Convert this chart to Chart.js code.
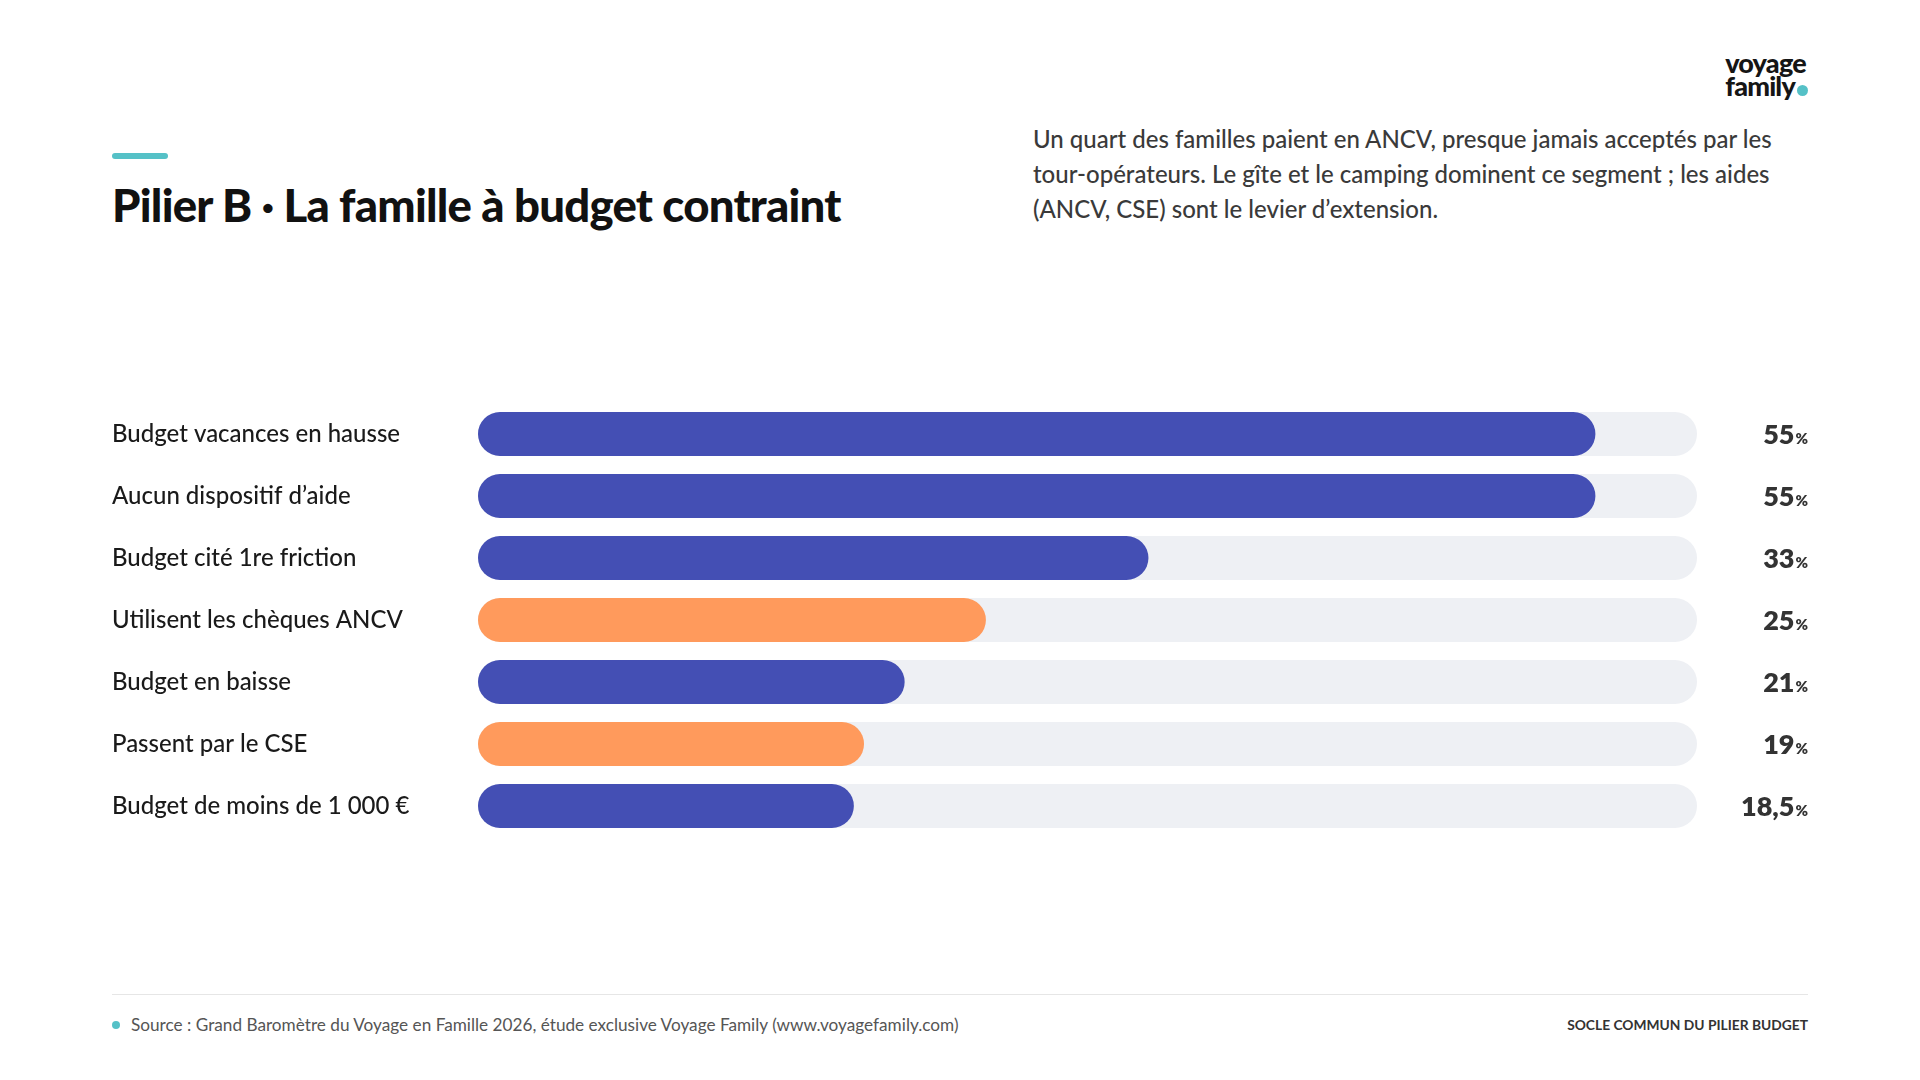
<!DOCTYPE html>
<html>
<head>
<meta charset="utf-8">
<script src="https://cdn.jsdelivr.net/npm/chart.js@4.4.1/dist/chart.umd.min.js"></script>
<style>
  html, body { margin: 0; padding: 0; background: #ffffff; }
  body { width: 1920px; height: 1080px; position: relative; overflow: hidden; font-family: 'Lato', sans-serif; color: #1a1a1a; }
  .accent { position: absolute; left: 112px; top: 153px; width: 56px; height: 6px; border-radius: 3px; background: #55c1c7; }
  h1 { position: absolute; left: 112px; top: 177px; margin: 0; font-size: 45.5px; font-weight: 900; letter-spacing: -0.75px; color: #111; white-space: nowrap; }
  .desc { position: absolute; left: 1033px; top: 121px; width: 800px; margin: 0; font-size: 24px; line-height: 35px; color: #3a3a3a; font-weight: 500; white-space: nowrap; }
  .logo { position: absolute; right: 112px; top: 51px; text-align: left; font-weight: 900; font-size: 27px; line-height: 23px; letter-spacing: -0.8px; color: #151515; }
  .logo span.dot { display: inline-block; width: 11px; height: 11px; border-radius: 50%; background: #55c1c7; margin-left: 2px; }
  #wrap { position: absolute; left: 0; top: 380px; width: 1920px; height: 480px; }
  .rule { position: absolute; left: 112px; top: 994px; width: 1696px; height: 1px; background: #e6e6e6; }
  .src { position: absolute; left: 112px; top: 1014px; font-size: 17.2px; color: #555; }
  .src i { display: inline-block; width: 8px; height: 8px; border-radius: 50%; background: #55c1c7; margin-right: 11px; vertical-align: 2px; }
  .tag { position: absolute; right: 112px; top: 1016px; font-size: 13.8px; font-weight: 700; color: #333; letter-spacing: 0px; }
</style>
</head>
<body>
<div class="logo">voyage<br>family<span class="dot"></span></div>
<div class="accent"></div>
<h1>Pilier B · La famille à budget contraint</h1>
<p class="desc">Un quart des familles paient en ANCV, presque jamais acceptés par les<br>tour-opérateurs. Le gîte et le camping dominent ce segment ; les aides<br>(ANCV, CSE) sont le levier d’extension.</p>

<div id="wrap"><canvas id="bars"></canvas></div>

<div class="rule"></div>
<div class="src"><i></i>Source : Grand Baromètre du Voyage en Famille 2026, étude exclusive Voyage Family (www.voyagefamily.com)</div>
<div class="tag">SOCLE COMMUN DU PILIER BUDGET</div>

<script>
// donnees
var categories = ['Budget vacances en hausse', 'Aucun dispositif d\u2019aide', 'Budget cité 1re friction',
  'Utilisent les chèques ANCV', 'Budget en baisse', 'Passent par le CSE', 'Budget de moins de 1\u202f000 €'];
var valeurs = [55, 55, 33, 25, 21, 19, 18.5];
var aides = [false, false, false, true, false, true, false]; // barres orange = dispositifs d'aide
var echelleMax = 60;

var bleu = '#444fb4';
var orange = '#ff9a5c';
var piste = '#eef0f4';

// piste grise derriere chaque barre
var pistePlugin = {
  id: 'piste',
  beforeDatasetsDraw: function(chart) {
    var ctx = chart.ctx, area = chart.chartArea;
    var meta = chart.getDatasetMeta(0);
    ctx.save();
    ctx.fillStyle = piste;
    meta.data.forEach(function(bar) {
      var h = bar.height, top = bar.y - h / 2;
      ctx.beginPath();
      ctx.roundRect(area.left, top, area.right - area.left, h, h / 2);
      ctx.fill();
    });
    ctx.restore();
  }
};

// valeurs a droite : "55" + petit "%"
var valeursPlugin = {
  id: 'valeurs',
  afterDatasetsDraw: function(chart) {
    var ctx = chart.ctx;
    var meta = chart.getDatasetMeta(0);
    var xDroite = 1808;
    ctx.save();
    ctx.fillStyle = '#333333';
    ctx.textBaseline = 'alphabetic';
    ctx.textAlign = 'right';
    meta.data.forEach(function(bar, i) {
      var txt = String(valeurs[i]).replace('.', ',');
      ctx.font = '800 15px Lato';
      var wPct = ctx.measureText('%').width;
      ctx.fillText('%', xDroite, bar.y + 10);
      ctx.font = '800 27px Lato';
      ctx.fillText(txt, xDroite - wPct - 1, bar.y + 10);
    });
    ctx.restore();
  }
};

new Chart(document.getElementById('bars'), {
  type: 'bar',
  data: {
    labels: categories,
    datasets: [{
      data: valeurs,
      backgroundColor: aides.map(function(a) { return a ? orange : bleu; }),
      borderRadius: 22,
      borderSkipped: false,
      barPercentage: 0.71,
      categoryPercentage: 1
    }]
  },
  options: {
    indexAxis: 'y',
    responsive: true,
    maintainAspectRatio: false,
    animation: false,
    layout: { padding: { left: 112, right: 223, top: 23, bottom: 23 } },
    plugins: { legend: { display: false }, tooltip: { enabled: false } },
    scales: {
      x: { display: false, min: 0, max: echelleMax },
      y: {
        grid: { display: false },
        border: { display: false },
        ticks: {
          crossAlign: 'far',
          color: '#1a1a1a',
          font: { family: 'Lato', size: 24, weight: '500' },
          padding: 0
        },
        afterFit: function(scale) { scale.width = 366; }
      }
    }
  },
  plugins: [pistePlugin, valeursPlugin]
});
</script>
</body>
</html>
